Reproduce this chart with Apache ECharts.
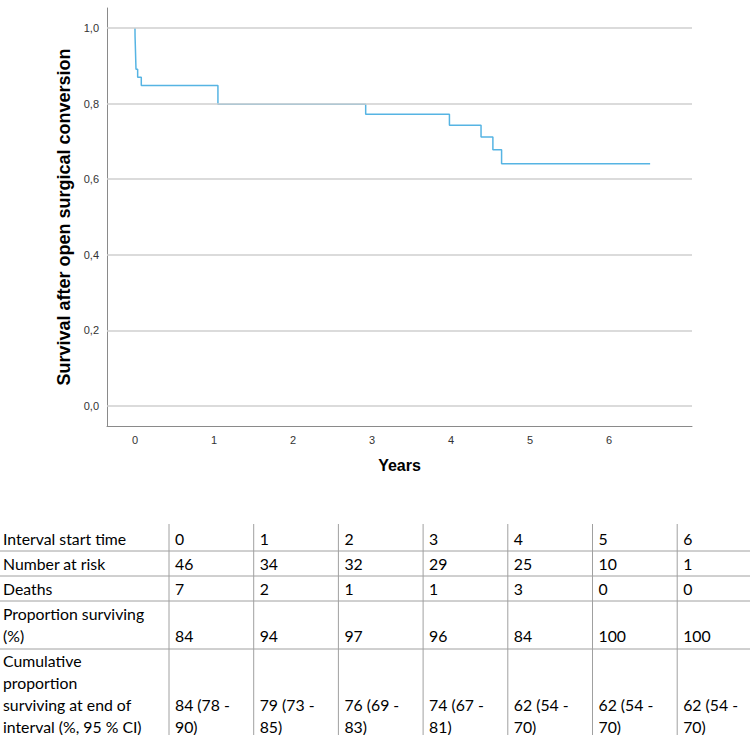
<!DOCTYPE html>
<html>
<head>
<meta charset="utf-8">
<script src="https://cdn.jsdelivr.net/npm/echarts@6/dist/echarts.min.js"></script>
<style>
html,body{margin:0;padding:0;background:#fff;}
#chart{width:750px;height:735px;}
</style>
</head>
<body>
<div id="chart"></div>
<script>
// Kaplan-Meier curve (step points)
const kmTime = [0, 0.001, 0.004, 0.007, 0.010, 0.013, 0.034, 0.080, 1.05, 2.92, 3.98, 4.38, 4.53, 4.64, 6.52];
const kmSurv = [1.0, 0.978, 0.957, 0.935, 0.913, 0.891, 0.870, 0.848, 0.798, 0.772, 0.743, 0.712, 0.678, 0.641, 0.641];

// Axis ticks
const xTicks = [0, 1, 2, 3, 4, 5, 6];
const yTicks = [0, 0.2, 0.4, 0.6, 0.8, 1.0];

// Life table
const rowLabels = [
  ["Interval start time"],
  ["Number at risk"],
  ["Deaths"],
  ["Proportion surviving", "(%)"],
  ["Cumulative", "proportion", "surviving at end of", "interval (%, 95 % CI)"]
];
const intervalStart = [0, 1, 2, 3, 4, 5, 6];
const numberAtRisk = [46, 34, 32, 29, 25, 10, 1];
const deaths = [7, 2, 1, 1, 3, 0, 0];
const propSurviving = [84, 94, 97, 96, 84, 100, 100];
const cumProp = [84, 79, 76, 74, 62, 62, 62];
const cumLow = [78, 73, 69, 67, 54, 54, 54];
const cumHigh = [90, 85, 83, 81, 70, 70, 70];

const chart = echarts.init(document.getElementById('chart'), null, {renderer: 'svg'});

// ---- table layout (graphic elements) ----
const tableFont = '15.8px Lato';
const labelX = 3;
const colSep0 = 169, colW = 84.7;
const tableTop = 524, tableBottom = 735;
const rowLines = [551, 576, 601, 649];
const rowTextY = [[538], [563], [588], [613, 635], [660, 682, 704, 726]];

const cellValues = [
  intervalStart.map(v => [String(v)]),
  numberAtRisk.map(v => [String(v)]),
  deaths.map(v => [String(v)]),
  propSurviving.map(v => [String(v)]),
  cumProp.map((v, i) => [v + ' (' + cumLow[i] + ' -', cumHigh[i] + ')'])
];

const graphics = [];
const lineStyle = {stroke: '#a0a0a0', lineWidth: 1};
rowLines.forEach(y => {
  graphics.push({type: 'line', shape: {x1: 0, y1: y, x2: 750, y2: y}, style: lineStyle, silent: true});
});
for (let j = 0; j < intervalStart.length; j++) {
  const x = colSep0 + j * colW;
  graphics.push({type: 'line', shape: {x1: x, y1: tableTop, x2: x, y2: tableBottom}, style: lineStyle, silent: true});
}
rowLabels.forEach((lines, r) => {
  lines.forEach((t, k) => {
    graphics.push({type: 'text', x: labelX, y: rowTextY[r][k],
      style: {text: t, font: tableFont, fill: '#000', textVerticalAlign: 'middle', textAlign: 'left'}, silent: true});
  });
});
cellValues.forEach((row, r) => {
  const ys = rowTextY[r];
  row.forEach((lines, j) => {
    const x = colSep0 + j * colW + 6;
    const start = ys.length - lines.length;
    lines.forEach((t, k) => {
      graphics.push({type: 'text', x: x, y: ys[start + k],
        style: {text: t, font: tableFont, fill: '#000', textVerticalAlign: 'middle', textAlign: 'left'}, silent: true});
    });
  });
});

const option = {
  backgroundColor: '#fff',
  animation: false,
  grid: {left: 107, right: 58, top: 8, bottom: 309, containLabel: false},
  xAxis: {
    type: 'value', min: -0.354, max: 7.05,
    name: 'Years', nameLocation: 'middle', nameGap: 31,
    nameTextStyle: {fontFamily: 'Liberation Sans', fontWeight: 'bold', fontSize: 16, color: '#000'},
    axisLine: {show: true, onZero: false, lineStyle: {color: '#8a8a8a', width: 1}},
    axisTick: {show: false, customValues: xTicks},
    axisLabel: {customValues: xTicks, fontFamily: 'Liberation Sans', fontSize: 11, color: '#333', margin: 8},
    splitLine: {show: false}
  },
  yAxis: {
    type: 'value', min: -0.053, max: 1.053,
    name: 'Survival after open surgical conversion', nameLocation: 'middle', nameGap: 33,
    nameTextStyle: {fontFamily: 'Liberation Sans', fontWeight: 'bold', fontSize: 18, color: '#000'},
    axisLine: {show: true, onZero: false, lineStyle: {color: '#8a8a8a', width: 1}},
    axisTick: {show: false, customValues: yTicks},
    axisLabel: {customValues: yTicks, fontFamily: 'Liberation Sans', fontSize: 11, color: '#333', margin: 8,
      formatter: v => v.toFixed(1).replace('.', ',')},
    splitLine: {show: false}
  },
  series: [{
    type: 'line', step: 'end', showSymbol: false, symbol: 'none',
    data: kmTime.map((t, i) => [t, kmSurv[i]]),
    lineStyle: {color: '#56b4e3', width: 1.5},
    markLine: {
      silent: true, symbol: 'none', label: {show: false},
      lineStyle: {color: '#cfcfcf', width: 1.5, type: 'solid'},
      data: yTicks.map(v => ({yAxis: v}))
    },
    z: 3
  }],
  graphic: graphics
};
chart.setOption(option);
</script>
</body>
</html>
